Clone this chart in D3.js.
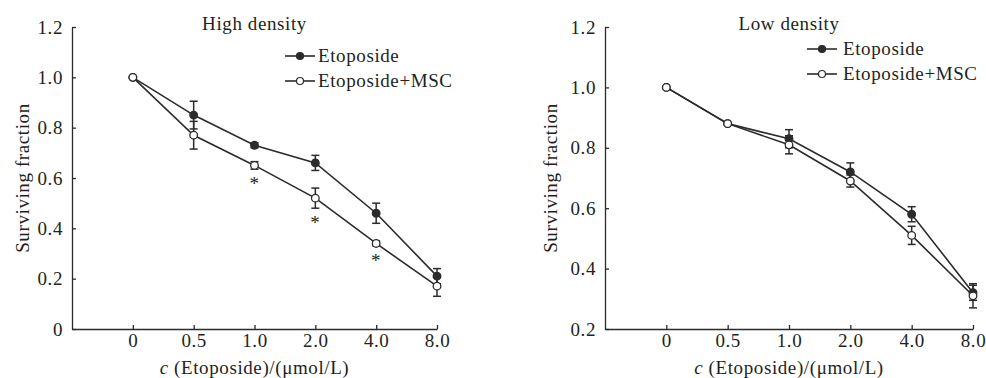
<!DOCTYPE html>
<html>
<head>
<meta charset="utf-8">
<script src="https://cdn.jsdelivr.net/npm/d3@7"></script>
<style>
  body { margin: 0; background: #fff; }
</style>
</head>
<body>
<svg id="chart" width="986" height="378"></svg>
<script>
"use strict";

// doses on the x axis (categorical, evenly spaced)
var doses = ["0", "0.5", "1.0", "2.0", "4.0", "8.0"];

// high density panel
var highEto = [1.0, 0.85, 0.73, 0.66, 0.46, 0.21];
var highEtoErr = [0, 0.055, 0.01, 0.03, 0.04, 0.03];
var highMsc = [1.0, 0.77, 0.65, 0.52, 0.34, 0.17];
var highMscErr = [0, 0.055, 0.015, 0.04, 0.01, 0.04];
var highSig = [false, false, true, true, true, false];

// low density panel
var lowEto = [1.0, 0.88, 0.83, 0.72, 0.58, 0.32];
var lowEtoErr = [0, 0.005, 0.03, 0.03, 0.025, 0.025];
var lowMsc = [1.0, 0.88, 0.81, 0.69, 0.51, 0.31];
var lowMscErr = [0, 0.005, 0.03, 0.02, 0.03, 0.04];

var highTicks = [0, 0.2, 0.4, 0.6, 0.8, 1.0, 1.2];
var lowTicks = [0.2, 0.4, 0.6, 0.8, 1.0, 1.2];

var seriesNames = ["Etoposide", "Etoposide+MSC"];
var ink = "#2b2b2b";
var txt = "#231f20";
var font = "'Liberation Serif', 'Times New Roman', serif";
var fs = 19;

var svg = d3.select("#chart");

function fmtTick(d) {
  return d === 0 ? "0" : d3.format(".1f")(d);
}

function styleText(sel) {
  return sel.style("font-family", font)
    .style("font-size", fs + "px")
    .style("letter-spacing", "0.6px")
    .attr("fill", txt);
}

function drawPanel(cfg) {
  var g = svg.append("g");

  var x = d3.scalePoint()
    .domain([""].concat(doses))
    .range([cfg.left, cfg.right]);
  var y = d3.scaleLinear()
    .domain(cfg.yDomain)
    .range([cfg.bottom, cfg.top]);

  var xAxis = g.append("g")
    .attr("transform", "translate(0," + cfg.bottom + ")")
    .call(d3.axisBottom(x).tickValues(doses).tickSizeInner(-4).tickSizeOuter(0).tickPadding(5));
  var yAxis = g.append("g")
    .attr("transform", "translate(" + cfg.left + ",0)")
    .call(d3.axisLeft(y).tickValues(cfg.yTicks).tickFormat(fmtTick).tickSizeInner(-4).tickSizeOuter(0).tickPadding(9));

  [xAxis, yAxis].forEach(function(a) {
    a.selectAll("path, line").attr("stroke", ink).attr("stroke-width", 1.3);
    styleText(a.selectAll("text"));
  });

  // title
  styleText(g.append("text"))
    .attr("x", (cfg.left + cfg.right) / 2)
    .attr("y", 30)
    .attr("text-anchor", "middle")
    .text(cfg.title);

  // axis titles
  styleText(g.append("text"))
    .attr("transform", "translate(" + cfg.yLabelX + "," + ((cfg.top + cfg.bottom) / 2) + ") rotate(-90)")
    .attr("text-anchor", "middle")
    .text("Surviving fraction");

  var xl = styleText(g.append("text"))
    .attr("x", (cfg.left + cfg.right) / 2)
    .attr("y", 374)
    .attr("text-anchor", "middle");
  xl.append("tspan").attr("font-style", "italic").text("c");
  xl.append("tspan").text(" (Etoposide)/(\u03bcmol/L)");

  var series = [
    {vals: cfg.eto, err: cfg.etoErr, fill: ink},
    {vals: cfg.msc, err: cfg.mscErr, fill: "#fff"}
  ];

  var line = d3.line()
    .x(function(d, i) { return x(doses[i]); })
    .y(function(d) { return y(d); });

  series.forEach(function(s) {
    g.append("path")
      .datum(s.vals)
      .attr("d", line)
      .attr("fill", "none")
      .attr("stroke", ink)
      .attr("stroke-width", 1.6);

    var eb = g.append("g").selectAll("g")
      .data(s.vals.map(function(v, i) { return {v: v, e: s.err[i], k: doses[i]}; })
        .filter(function(d) { return d.e > 0.006; }))
      .join("g")
      .attr("stroke", ink)
      .attr("stroke-width", 1.5);
    eb.append("line")
      .attr("x1", function(d) { return x(d.k); })
      .attr("x2", function(d) { return x(d.k); })
      .attr("y1", function(d) { return y(d.v - d.e); })
      .attr("y2", function(d) { return y(d.v + d.e); });
    eb.append("line")
      .attr("x1", function(d) { return x(d.k) - 4; })
      .attr("x2", function(d) { return x(d.k) + 4; })
      .attr("y1", function(d) { return y(d.v + d.e); })
      .attr("y2", function(d) { return y(d.v + d.e); });
    eb.append("line")
      .attr("x1", function(d) { return x(d.k) - 4; })
      .attr("x2", function(d) { return x(d.k) + 4; })
      .attr("y1", function(d) { return y(d.v - d.e); })
      .attr("y2", function(d) { return y(d.v - d.e); });
  });

  series.forEach(function(s) {
    g.append("g").selectAll("circle")
      .data(s.vals)
      .join("circle")
      .attr("cx", function(d, i) { return x(doses[i]); })
      .attr("cy", function(d) { return y(d); })
      .attr("r", 3.8)
      .attr("fill", s.fill)
      .attr("stroke", ink)
      .attr("stroke-width", 1.3);
  });

  // significance marks
  if (cfg.sig) {
    styleText(g.append("g").selectAll("text")
      .data(cfg.msc.map(function(v, i) { return {v: v - cfg.mscErr[i], k: doses[i], s: cfg.sig[i]}; })
        .filter(function(d) { return d.s; }))
      .join("text"))
      .attr("x", function(d) { return x(d.k); })
      .attr("y", function(d) { return y(d.v) + 21; })
      .attr("text-anchor", "middle")
      .text("*");
  }

  // legend
  var leg = g.append("g").selectAll("g")
    .data(seriesNames)
    .join("g")
    .attr("transform", function(d, i) { return "translate(" + cfg.legX + "," + (cfg.legY + i * 25) + ")"; });
  leg.append("line")
    .attr("x1", 0).attr("x2", 30)
    .attr("stroke", ink).attr("stroke-width", 1.6);
  leg.append("circle")
    .attr("cx", 15).attr("r", 3.5)
    .attr("fill", function(d, i) { return series[i].fill; })
    .attr("stroke", ink).attr("stroke-width", 1.2);
  styleText(leg.append("text"))
    .attr("x", cfg.legText)
    .attr("dy", "0.33em")
    .text(function(d) { return d; });
}

drawPanel({
  title: "High density",
  left: 72, right: 437, top: 27, bottom: 329,
  yDomain: [0, 1.2], yTicks: highTicks, yLabelX: 29,
  eto: highEto, etoErr: highEtoErr, msc: highMsc, mscErr: highMscErr, sig: highSig,
  legX: 285, legY: 56, legText: 33
});

drawPanel({
  title: "Low density",
  left: 605, right: 973, top: 27, bottom: 329,
  yDomain: [0.2, 1.2], yTicks: lowTicks, yLabelX: 557,
  eto: lowEto, etoErr: lowEtoErr, msc: lowMsc, mscErr: lowMscErr, sig: null,
  legX: 807, legY: 49, legText: 36
});
</script>
</body>
</html>
